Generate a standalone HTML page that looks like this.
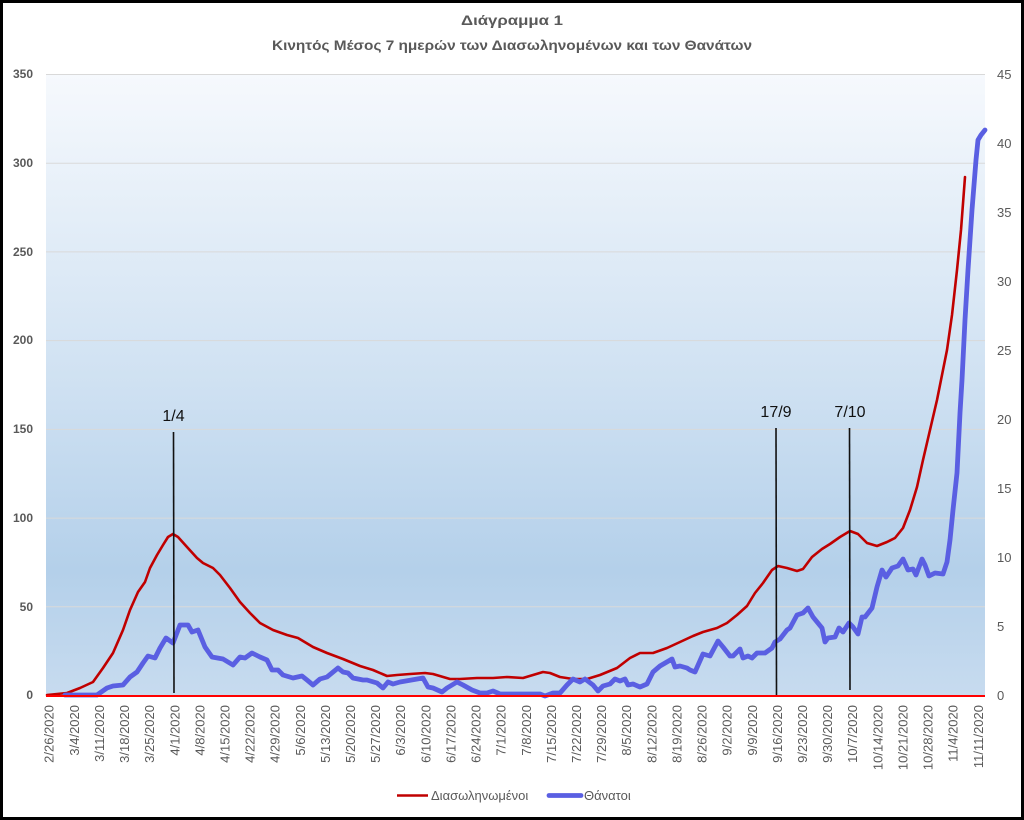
<!DOCTYPE html>
<html>
<head>
<meta charset="utf-8">
<style>
  html,body{margin:0;padding:0;background:#000;}
  body{width:1024px;height:820px;overflow:hidden;}
  svg{display:block;}
  text{font-family:"Liberation Sans", Arial, sans-serif;}
</style>
</head>
<body>
<svg width="1024" height="820" viewBox="0 0 1024 820" xmlns="http://www.w3.org/2000/svg">
  <defs>
    <linearGradient id="bg" x1="0" y1="0" x2="0" y2="1">
      <stop offset="0" stop-color="#f6f9fd"/>
      <stop offset="0.5" stop-color="#cfe1f2"/>
      <stop offset="0.8" stop-color="#b4d0ea"/>
      <stop offset="1" stop-color="#c7dbef"/>
    </linearGradient>
  </defs>
  <rect x="0" y="0" width="1024" height="820" fill="#000"/>
  <rect x="3" y="3" width="1018" height="814" fill="#fff"/>

  <!-- Title -->
  <text x="512" y="25" text-anchor="middle" font-size="14" font-weight="bold" fill="#595959" textLength="102" lengthAdjust="spacingAndGlyphs">Διάγραμμα 1</text>
  <text x="512" y="50" text-anchor="middle" font-size="14" font-weight="bold" fill="#595959" textLength="480" lengthAdjust="spacingAndGlyphs">Κινητός Μέσος 7 ημερών  των Διασωληνομένων και των Θανάτων</text>

  <!-- Plot area -->
  <rect x="46" y="74" width="939" height="621" fill="url(#bg)"/>

  <!-- Gridlines -->
  <g stroke="#d9d9d9" stroke-width="1">
    <line x1="46" y1="74.5" x2="985" y2="74.5"/>
    <line x1="46" y1="163.2" x2="985" y2="163.2"/>
    <line x1="46" y1="251.9" x2="985" y2="251.9"/>
    <line x1="46" y1="340.6" x2="985" y2="340.6"/>
    <line x1="46" y1="429.4" x2="985" y2="429.4"/>
    <line x1="46" y1="518.1" x2="985" y2="518.1"/>
    <line x1="46" y1="606.8" x2="985" y2="606.8"/>
  </g>

  <!-- Left axis labels -->
  <g font-size="12" font-weight="bold" fill="#595959" text-anchor="end">
    <text x="33" y="78">350</text>
    <text x="33" y="167">300</text>
    <text x="33" y="256">250</text>
    <text x="33" y="344">200</text>
    <text x="33" y="433">150</text>
    <text x="33" y="522">100</text>
    <text x="33" y="611">50</text>
    <text x="33" y="699">0</text>
  </g>

  <!-- Right axis labels -->
  <g font-size="13" fill="#595959" text-anchor="start">
    <text x="997" y="79">45</text>
    <text x="997" y="148">40</text>
    <text x="997" y="217">35</text>
    <text x="997" y="286">30</text>
    <text x="997" y="355">25</text>
    <text x="997" y="424">20</text>
    <text x="997" y="493">15</text>
    <text x="997" y="562">10</text>
    <text x="997" y="631">5</text>
    <text x="997" y="700">0</text>
  </g>

  <!-- Red series (intubated) -->
  <polyline fill="none" stroke="#c00000" stroke-width="2.6" stroke-linejoin="round" stroke-linecap="round"
    points="47,695 67,693 80,688 93,682 103,668 113,653 123,630 130,610 138,592 145,582 150,568 157,555 163,545 168,537 173,534 178,537 187,547 197,558 203,563 213,568 220,575 230,588 240,602 250,613 260,623 273,630 287,635 298,638 313,647 327,653 343,659 360,666 373,670 387,676 397,675 410,674 425,673 433,674 450,679 460,679 477,678 493,678 507,677 523,678 533,675 543,672 550,673 560,677 573,679 587,679 600,675 617,668 630,658 640,653 653,653 667,648 680,642 693,636 703,632 717,628 727,623 737,615 747,606 755,593 763,583 772,570 778,566 787,568 797,571 803,569 812,557 822,549 830,544 840,537 850,531 858,534 867,543 877,546 887,542 895,538 903,528 910,510 917,487 923,460 930,430 937,400 941,380 947,350 952,315 957,270 961,230 965,177"/>

  <!-- Blue series (deaths) -->
  <polyline fill="none" stroke="#5a5fe2" stroke-width="4.8" stroke-linejoin="round" stroke-linecap="round"
    points="65,695 97,695 107,688 113,686 123,685 130,677 137,672 143,663 148,656 155,658 160,648 166,638 173,643 180,625 188,625 192,632 198,630 205,647 212,657 223,659 233,665 240,657 245,658 252,653 260,657 267,660 272,670 278,670 283,675 293,678 302,676 307,680 313,685 320,679 327,677 338,668 343,672 348,673 353,678 363,680 367,680 377,683 383,688 388,682 393,684 400,682 423,678 428,687 433,688 442,692 447,688 457,682 463,685 472,690 480,693 487,693 493,691 500,694 540,694 545,696 553,693 560,693 567,685 573,679 580,682 585,679 593,685 598,691 603,686 610,684 615,679 620,681 625,679 628,685 633,684 640,687 647,684 653,672 660,666 672,659 675,667 680,666 687,668 690,670 695,672 703,654 710,656 718,641 723,647 730,656 733,656 740,649 743,658 748,656 752,658 757,653 765,653 772,648 775,642 780,639 787,630 790,628 797,615 803,613 808,608 813,617 822,628 825,642 828,638 835,637 839,628 843,632 849,623 853,627 858,634 862,617 865,617 872,608 877,587 882,570 886,577 892,568 898,566 903,559 908,570 913,569 916,575 922,559 925,565 929,576 935,573 943,574 947,562 950,540 953,510 957,473 960,413 962,380 965,320 968,270 972,210 976,160 978,140 981,135 985,130"/>

  <!-- Red zero line -->
  <line x1="46" y1="696" x2="985" y2="696" stroke="#ff0000" stroke-width="2"/>

  <!-- Marker lines -->
  <g stroke="#111" stroke-width="1.6">
    <line x1="173.5" y1="432" x2="174" y2="693"/>
    <line x1="776" y1="428" x2="776.5" y2="695"/>
    <line x1="849.5" y1="428" x2="850" y2="690"/>
  </g>
  <g font-size="16" fill="#111" text-anchor="middle">
    <text x="173.5" y="421">1/4</text>
    <text x="776" y="417">17/9</text>
    <text x="850" y="417">7/10</text>
  </g>

  <!-- X axis labels -->
  <g font-size="13" fill="#595959" text-anchor="end">
    <text transform="translate(53.7,705) rotate(-90)">2/26/2020</text>
    <text transform="translate(78.8,705) rotate(-90)">3/4/2020</text>
    <text transform="translate(103.9,705) rotate(-90)">3/11/2020</text>
    <text transform="translate(129,705) rotate(-90)">3/18/2020</text>
    <text transform="translate(154.1,705) rotate(-90)">3/25/2020</text>
    <text transform="translate(179.3,705) rotate(-90)">4/1/2020</text>
    <text transform="translate(204.4,705) rotate(-90)">4/8/2020</text>
    <text transform="translate(229.5,705) rotate(-90)">4/15/2020</text>
    <text transform="translate(254.6,705) rotate(-90)">4/22/2020</text>
    <text transform="translate(279.7,705) rotate(-90)">4/29/2020</text>
    <text transform="translate(304.8,705) rotate(-90)">5/6/2020</text>
    <text transform="translate(329.9,705) rotate(-90)">5/13/2020</text>
    <text transform="translate(355,705) rotate(-90)">5/20/2020</text>
    <text transform="translate(380.1,705) rotate(-90)">5/27/2020</text>
    <text transform="translate(405.2,705) rotate(-90)">6/3/2020</text>
    <text transform="translate(430.4,705) rotate(-90)">6/10/2020</text>
    <text transform="translate(455.5,705) rotate(-90)">6/17/2020</text>
    <text transform="translate(480.6,705) rotate(-90)">6/24/2020</text>
    <text transform="translate(505.7,705) rotate(-90)">7/1/2020</text>
    <text transform="translate(530.8,705) rotate(-90)">7/8/2020</text>
    <text transform="translate(555.9,705) rotate(-90)">7/15/2020</text>
    <text transform="translate(581,705) rotate(-90)">7/22/2020</text>
    <text transform="translate(606.1,705) rotate(-90)">7/29/2020</text>
    <text transform="translate(631.2,705) rotate(-90)">8/5/2020</text>
    <text transform="translate(656.3,705) rotate(-90)">8/12/2020</text>
    <text transform="translate(681.5,705) rotate(-90)">8/19/2020</text>
    <text transform="translate(706.6,705) rotate(-90)">8/26/2020</text>
    <text transform="translate(731.7,705) rotate(-90)">9/2/2020</text>
    <text transform="translate(756.8,705) rotate(-90)">9/9/2020</text>
    <text transform="translate(781.9,705) rotate(-90)">9/16/2020</text>
    <text transform="translate(807,705) rotate(-90)">9/23/2020</text>
    <text transform="translate(832.1,705) rotate(-90)">9/30/2020</text>
    <text transform="translate(857.2,705) rotate(-90)">10/7/2020</text>
    <text transform="translate(882.3,705) rotate(-90)">10/14/2020</text>
    <text transform="translate(907.4,705) rotate(-90)">10/21/2020</text>
    <text transform="translate(932.6,705) rotate(-90)">10/28/2020</text>
    <text transform="translate(957.7,705) rotate(-90)">11/4/2020</text>
    <text transform="translate(982.8,705) rotate(-90)">11/11/2020</text>
  </g>

  <!-- Legend -->
  <line x1="397" y1="795.5" x2="428" y2="795.5" stroke="#c00000" stroke-width="2.6"/>
  <text x="431" y="800" font-size="13" fill="#595959">Διασωληνωμένοι</text>
  <line x1="549" y1="795.5" x2="581" y2="795.5" stroke="#5a5fe2" stroke-width="4.8" stroke-linecap="round"/>
  <text x="584" y="800" font-size="13" fill="#595959">Θάνατοι</text>
</svg>
</body>
</html>
